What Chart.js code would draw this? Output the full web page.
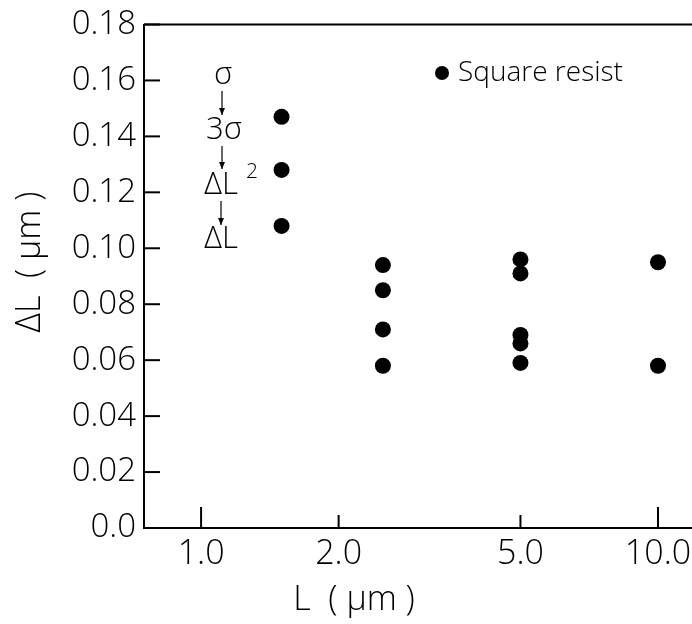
<!DOCTYPE html>
<html>
<head>
<meta charset="utf-8">
<script src="https://cdn.jsdelivr.net/npm/chart.js@4/dist/chart.umd.min.js"></script>
<style>
  html, body { margin: 0; padding: 0; background: #fff; }
  canvas { display: block; }
</style>
</head>
<body>
<canvas id="dlChart" width="692" height="624"></canvas>
<script>
// line width L (um) and measured delta-L (um) per width
var widths = [1.5, 2.5, 5.0, 10.0];
var dl_15 = [0.147, 0.128, 0.108];
var dl_25 = [0.094, 0.085, 0.071, 0.058];
var dl_50 = [0.096, 0.091, 0.069, 0.066, 0.059];
var dl_100 = [0.095, 0.058];

var xTickValues = [1, 2, 5, 10];
var xTickLabels = ['1.0', '2.0', '5.0', '10.0'];
var yTickValues = [0, 0.02, 0.04, 0.06, 0.08, 0.10, 0.12, 0.14, 0.16, 0.18];

var FONT = '"Open Sans", "Liberation Sans", sans-serif';

var points = [];
[dl_15, dl_25, dl_50, dl_100].forEach(function (vals, i) {
    vals.forEach(function (v) {
        points.push({ x: widths[i], y: v });
    });
});

function line(ctx, x1, y1, x2, y2) {
    ctx.beginPath();
    ctx.moveTo(x1, y1);
    ctx.lineTo(x2, y2);
    ctx.stroke();
}

function arrowDown(ctx, x, y1, y2) {
    line(ctx, x, y1, x, y2);
    ctx.beginPath();
    ctx.moveTo(x - 3, y2 - 7);
    ctx.lineTo(x + 3, y2 - 7);
    ctx.lineTo(x, y2);
    ctx.closePath();
    ctx.fill();
}

// inward ticks, x labels, frame lines, titles and the notes
var inkPlugin = {
    id: 'ink',
    afterDraw: function (chart) {
        var ctx = chart.ctx;
        var a = chart.chartArea;
        var x = chart.scales.x, y = chart.scales.y;
        ctx.save();
        ctx.strokeStyle = '#000';
        ctx.fillStyle = '#000';
        ctx.lineWidth = 2;

        // frame runs off the right edge
        line(ctx, a.left, a.top, chart.width, a.top);
        line(ctx, a.left, a.bottom, chart.width, a.bottom);

        yTickValues.forEach(function (v) {
            var py = y.getPixelForValue(v);
            line(ctx, a.left, py, a.left + 16, py);
        });
        ctx.font = '300 34px ' + FONT;
        ctx.textAlign = 'center';
        ctx.textBaseline = 'middle';
        xTickValues.forEach(function (v, i) {
            var px = x.getPixelForValue(v);
            var len = (v === 1 || v === 10) ? 21 : 13;
            line(ctx, px, a.bottom, px, a.bottom - len);
            ctx.fillText(xTickLabels[i], px, a.bottom + 26);
        });

        ctx.fillText('L  ( \u03bcm )', 354, 600);

        ctx.save();
        ctx.translate(30, 262);
        ctx.rotate(-Math.PI / 2);
        ctx.fillText('\u0394L  ( \u03bcm )', 0, 0);
        ctx.restore();

        // sigma -> 3 sigma -> dL^2 -> dL
        ctx.font = '300 31px ' + FONT;
        ctx.lineWidth = 1.2;
        ctx.fillText('\u03c3', 223, 75);
        arrowDown(ctx, 222, 91, 115);
        ctx.fillText('3\u03c3', 224, 130);
        arrowDown(ctx, 222, 146, 169);
        ctx.fillText('\u0394L', 221, 185);
        ctx.font = '300 21px ' + FONT;
        ctx.fillText('2', 252, 172);
        ctx.font = '300 31px ' + FONT;
        arrowDown(ctx, 221, 201, 225);
        ctx.fillText('\u0394L', 221, 239);

        // legend
        ctx.beginPath();
        ctx.arc(442, 73, 7, 0, Math.PI * 2);
        ctx.fill();
        ctx.font = '300 28px ' + FONT;
        ctx.textAlign = 'left';
        ctx.fillText('Square resist', 458, 73);

        ctx.restore();
    }
};

var ctx = document.getElementById('dlChart').getContext('2d');
var dlChart = new Chart(ctx, {
    type: 'scatter',
    data: {
        datasets: [{
            label: 'Square resist',
            data: points,
            backgroundColor: '#000',
            borderWidth: 0,
            pointRadius: 8,
            pointHoverRadius: 8
        }]
    },
    options: {
        responsive: false,
        animation: false,
        layout: { padding: { top: 23, right: 0, left: 0, bottom: 0 } },
        plugins: {
            legend: { display: false },
            tooltip: { enabled: false }
        },
        scales: {
            x: {
                type: 'logarithmic',
                bounds: 'data',
                min: 0.75,
                max: 11.4,
                afterBuildTicks: function (scale) {
                    scale.ticks = xTickValues.map(function (v) { return { value: v }; });
                },
                afterFit: function (scale) { scale.height = 96; },
                grid: { display: false, drawTicks: false },
                border: { display: true, color: '#000', width: 2 },
                ticks: { display: false }
            },
            y: {
                min: 0,
                max: 0.18,
                afterBuildTicks: function (scale) {
                    scale.ticks = yTickValues.map(function (v) { return { value: v }; });
                },
                afterFit: function (scale) { scale.width = 144; },
                grid: { display: false, drawTicks: false },
                border: { display: true, color: '#000', width: 2 },
                ticks: {
                    color: '#000',
                    padding: 8,
                    font: { family: FONT, size: 33, weight: 300, lineHeight: 1 },
                    callback: function (v) { return v === 0 ? '0.0' : Number(v).toFixed(2); }
                }
            }
        }
    },
    plugins: [inkPlugin]
});
</script>
</body>
</html>
